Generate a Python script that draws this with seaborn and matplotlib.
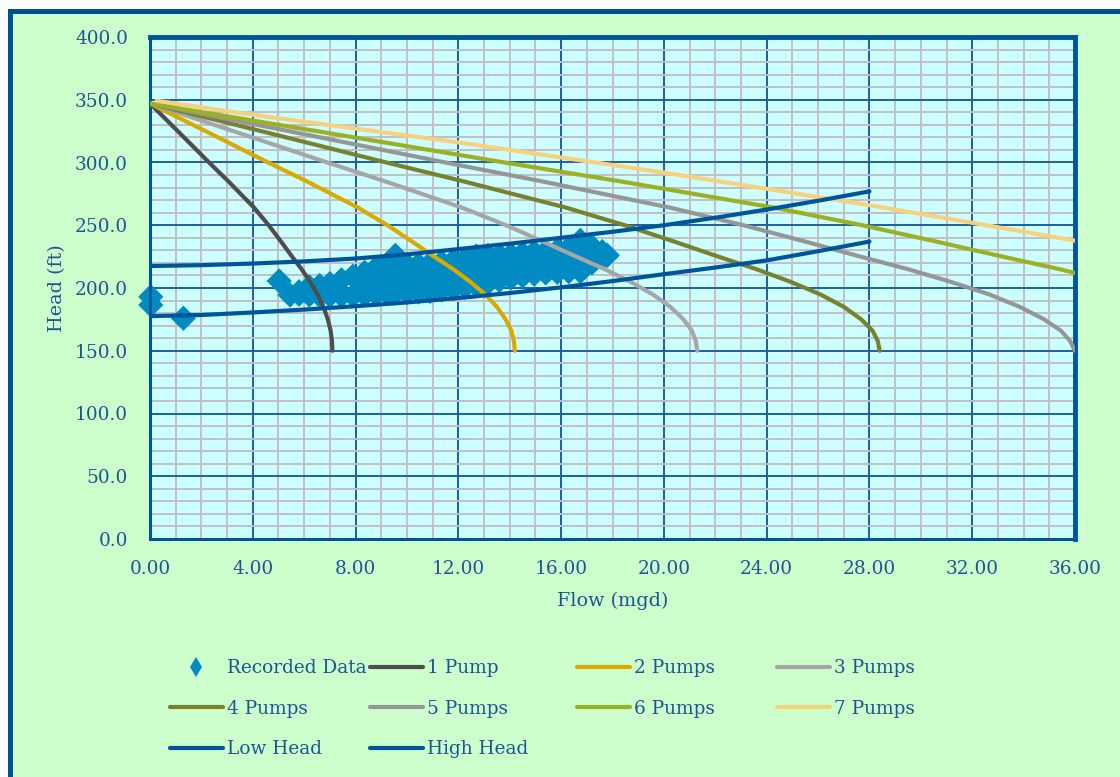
import matplotlib
matplotlib.use("Agg")
import matplotlib.pyplot as plt
from matplotlib.lines import Line2D
from matplotlib.patches import Rectangle
from matplotlib.ticker import MultipleLocator, FormatStrFormatter
import seaborn as sns

# ---------------- data ----------------
pump_heads = [347, 324, 300, 285, 264, 250, 237, 225, 215, 205, 195, 185, 175, 166, 158, 150]
flow_1 = [0, 1.13, 2.30, 3.05, 4.05, 4.62, 5.10, 5.53, 5.90, 6.23, 6.52, 6.75, 6.92, 7.03, 7.08, 7.10]
flow_2 = [0, 2.26, 4.6, 6.1, 8.1, 9.24, 10.2, 11.06, 11.8, 12.46, 13.04, 13.5, 13.84, 14.06, 14.16, 14.2]
flow_3 = [0, 3.39, 6.9, 9.15, 12.15, 13.86, 15.3, 16.59, 17.7, 18.69, 19.56, 20.25, 20.76, 21.09, 21.24, 21.3]
flow_4 = [0, 4.52, 9.2, 12.2, 16.2, 18.48, 20.4, 22.12, 23.6, 24.92, 26.08, 27.0, 27.68, 28.12, 28.32, 28.4]
flow_5 = [0, 5.65, 11.5, 15.25, 20.25, 23.1, 25.5, 27.65, 29.5, 31.15, 32.65, 33.85, 34.8, 35.45, 35.8, 36.0]
heads_6 = [347, 324, 300, 285, 264, 250, 237, 225, 215, 212]
flow_6 = [0, 6.78, 13.8, 18.3, 24.3, 27.72, 30.6, 33.18, 35.4, 36.0]
flow_7 = [0.26, 4, 8, 12, 16, 20, 24, 28, 32, 36]
heads_7 = [349.2, 338, 327, 316, 304, 292, 279, 266, 252, 237.7]

system_flow = [0, 2, 4, 6, 8, 10, 12, 14, 16, 18, 20, 22, 24, 26, 28]
low_head = [177.6, 178.5, 180.5, 182.8, 185.5, 188.5, 192, 196, 200.5, 205.5, 211, 216.3, 222, 229.3, 237]
high_head = [217.5, 218.2, 219.5, 221.2, 223.5, 226.8, 231, 235.3, 240, 244.8, 250, 256, 262.5, 269.5, 277]

rec_flow = [0.03, 0.03, 1.3, 5.03,
            5.45, 5.8, 5.8, 6.2, 6.2, 6.6, 6.6, 7.0, 7.0, 7.45, 7.45, 7.9, 7.9,
            8.35, 8.35, 8.35, 8.8, 8.8, 8.8, 9.25, 9.25, 9.25,
            9.55, 9.55, 9.55, 9.55, 10.0, 10.0, 10.0, 10.45, 10.45, 10.45,
            10.9, 10.9, 10.9, 11.35, 11.35, 11.35, 11.8, 11.8, 11.8,
            12.25, 12.25, 12.25, 12.7, 12.7, 12.7, 13.15, 13.15, 13.15,
            13.6, 13.6, 13.6, 14.05, 14.05, 14.05, 14.5, 14.5, 14.5,
            14.95, 14.95, 14.95, 15.4, 15.4, 15.4, 15.85, 15.85, 15.85,
            16.3, 16.3, 16.3, 16.75, 16.75, 16.75, 17.2, 17.2, 17.6, 17.6, 17.8]
rec_head = [193, 186.5, 175.9, 205.6,
            194.4, 195, 197, 194.5, 201, 194, 202, 194, 203.5, 194, 206.5, 194, 209.5,
            194.5, 203.5, 212.5, 195, 205.5, 216, 195.5, 207.5, 219.5,
            196, 206, 216, 226, 196.5, 207.5, 218.5, 196.8, 207.6, 218.5,
            197.3, 208.4, 219.5, 198.5, 209.5, 220.5, 199.5, 210.5, 221.5,
            200.5, 211.8, 223, 202, 213.8, 225.5, 204, 215, 226,
            206, 216, 226, 208, 217, 226.5, 209.5, 218.5, 227.5,
            211, 219.8, 228.5, 212, 220.5, 229, 212.5, 221, 230,
            213, 222.5, 232, 213, 225.5, 238, 220, 233, 224, 229, 226]

x_ticks = [0, 4, 8, 12, 16, 20, 24, 28, 32, 36]
y_ticks = [0, 50, 100, 150, 200, 250, 300, 350, 400]

# ---------------- style ----------------
sns.set_style("white")
plt.rcParams["font.family"] = ["DejaVu Serif", "DejaVu Sans"]
TXT = "#1D5592"
FRAME = "#00508F"

fig = plt.figure(figsize=(11.2, 7.77), dpi=100, facecolor="white")
frame = Rectangle((9.5 / 1120, -0.1), 1.2, 1.1 - 11 / 777, transform=fig.transFigure,
                  facecolor="#CCFFCC", edgecolor=FRAME, linewidth=3.6, zorder=-10)
fig.add_artist(frame)

ax = fig.add_axes([150 / 1120, 1 - 539 / 777, 925 / 1120, 502 / 777])
ax.set_facecolor("#CCFFFF")

curves = [
    (flow_1, pump_heads, "#4D4D4D", "1 Pump"),
    (flow_2, pump_heads, "#D9AA00", "2 Pumps"),
    (flow_3, pump_heads, "#A6A6A6", "3 Pumps"),
    (flow_4, pump_heads, "#77812E", "4 Pumps"),
    (flow_5, pump_heads, "#969696", "5 Pumps"),
    (flow_6, heads_6, "#9BB022", "6 Pumps"),
    (flow_7, heads_7, "#F7D27E", "7 Pumps"),
    (system_flow, low_head, "#00559A", "Low Head"),
    (system_flow, high_head, "#00559A", "High Head"),
]

sns.scatterplot(x=rec_flow, y=rec_head, marker="D", s=165, color="#008BC2",
                edgecolor="none", linewidth=0, ax=ax, zorder=2, clip_on=False)
for q, h, c, lab in curves:
    sns.lineplot(x=q, y=h, sort=False, estimator=None, color=c, linewidth=3.0,
                 ax=ax, zorder=3, solid_capstyle="round", solid_joinstyle="round")

ax.set_xlim(0, 36)
ax.set_ylim(0, 400)
ax.set_xticks(x_ticks)
ax.set_yticks(y_ticks)
ax.xaxis.set_minor_locator(MultipleLocator(1))
ax.yaxis.set_minor_locator(MultipleLocator(10))
ax.xaxis.set_major_formatter(FormatStrFormatter("%.2f"))
ax.yaxis.set_major_formatter(FormatStrFormatter("%.1f"))
ax.set_axisbelow(True)
ax.grid(which="major", color="#1F5F9F", linewidth=1.4)
ax.grid(which="minor", color="#C0BFC8", linewidth=1.4)
ax.tick_params(which="major", direction="out", length=5, width=1.5, color="#9A9AAA",
               labelsize=13.3, labelcolor=TXT)
ax.tick_params(axis="y", pad=11)
ax.tick_params(axis="x", pad=10)
ax.tick_params(which="minor", length=0)
for s in ["top", "right"]:
    ax.spines[s].set_linewidth(3.5)
    ax.spines[s].set_color("#00559A")
for s in ["left", "bottom"]:
    ax.spines[s].set_linewidth(2.2)
    ax.spines[s].set_color("#00559A")

ax.set_xlabel("Flow (mgd)", fontsize=13.8, color=TXT, labelpad=10)
ax.set_ylabel("Head (ft)", fontsize=13.8, color=TXT, labelpad=6)

# ---------------- legend (4 columns, Excel-like spacing) ----------------
def line_handle(c):
    return Line2D([], [], color=c, linewidth=3.0, solid_capstyle="round")

rec_handle = Line2D([], [], linestyle="none", marker="d", markersize=10,
                    color="#008BC2", markeredgewidth=0)
cmap = {lab: c for _, _, c, lab in curves}
columns = [
    ([rec_handle, line_handle(cmap["4 Pumps"]), line_handle(cmap["Low Head"])],
     ["Recorded Data", "4 Pumps", "Low Head"], 170),
    ([line_handle(cmap["1 Pump"]), line_handle(cmap["5 Pumps"]), line_handle(cmap["High Head"])],
     ["1 Pump", "5 Pumps", "High Head"], 370),
    ([line_handle(cmap["2 Pumps"]), line_handle(cmap["6 Pumps"])],
     ["2 Pumps", "6 Pumps"], 577),
    ([line_handle(cmap["3 Pumps"]), line_handle(cmap["7 Pumps"])],
     ["3 Pumps", "7 Pumps"], 777),
]
for hs, ls, x0 in columns:
    leg = fig.legend(hs, ls, loc="upper left", bbox_to_anchor=(x0 / 1120, 1 - 659 / 777),
                     frameon=False, fontsize=13.3, handlelength=2.85, handletextpad=0.25,
                     labelspacing=1.22, borderpad=0, borderaxespad=0)
    for t in leg.get_texts():
        t.set_color(TXT)

fig.savefig("out.png", dpi=100, facecolor="white")
